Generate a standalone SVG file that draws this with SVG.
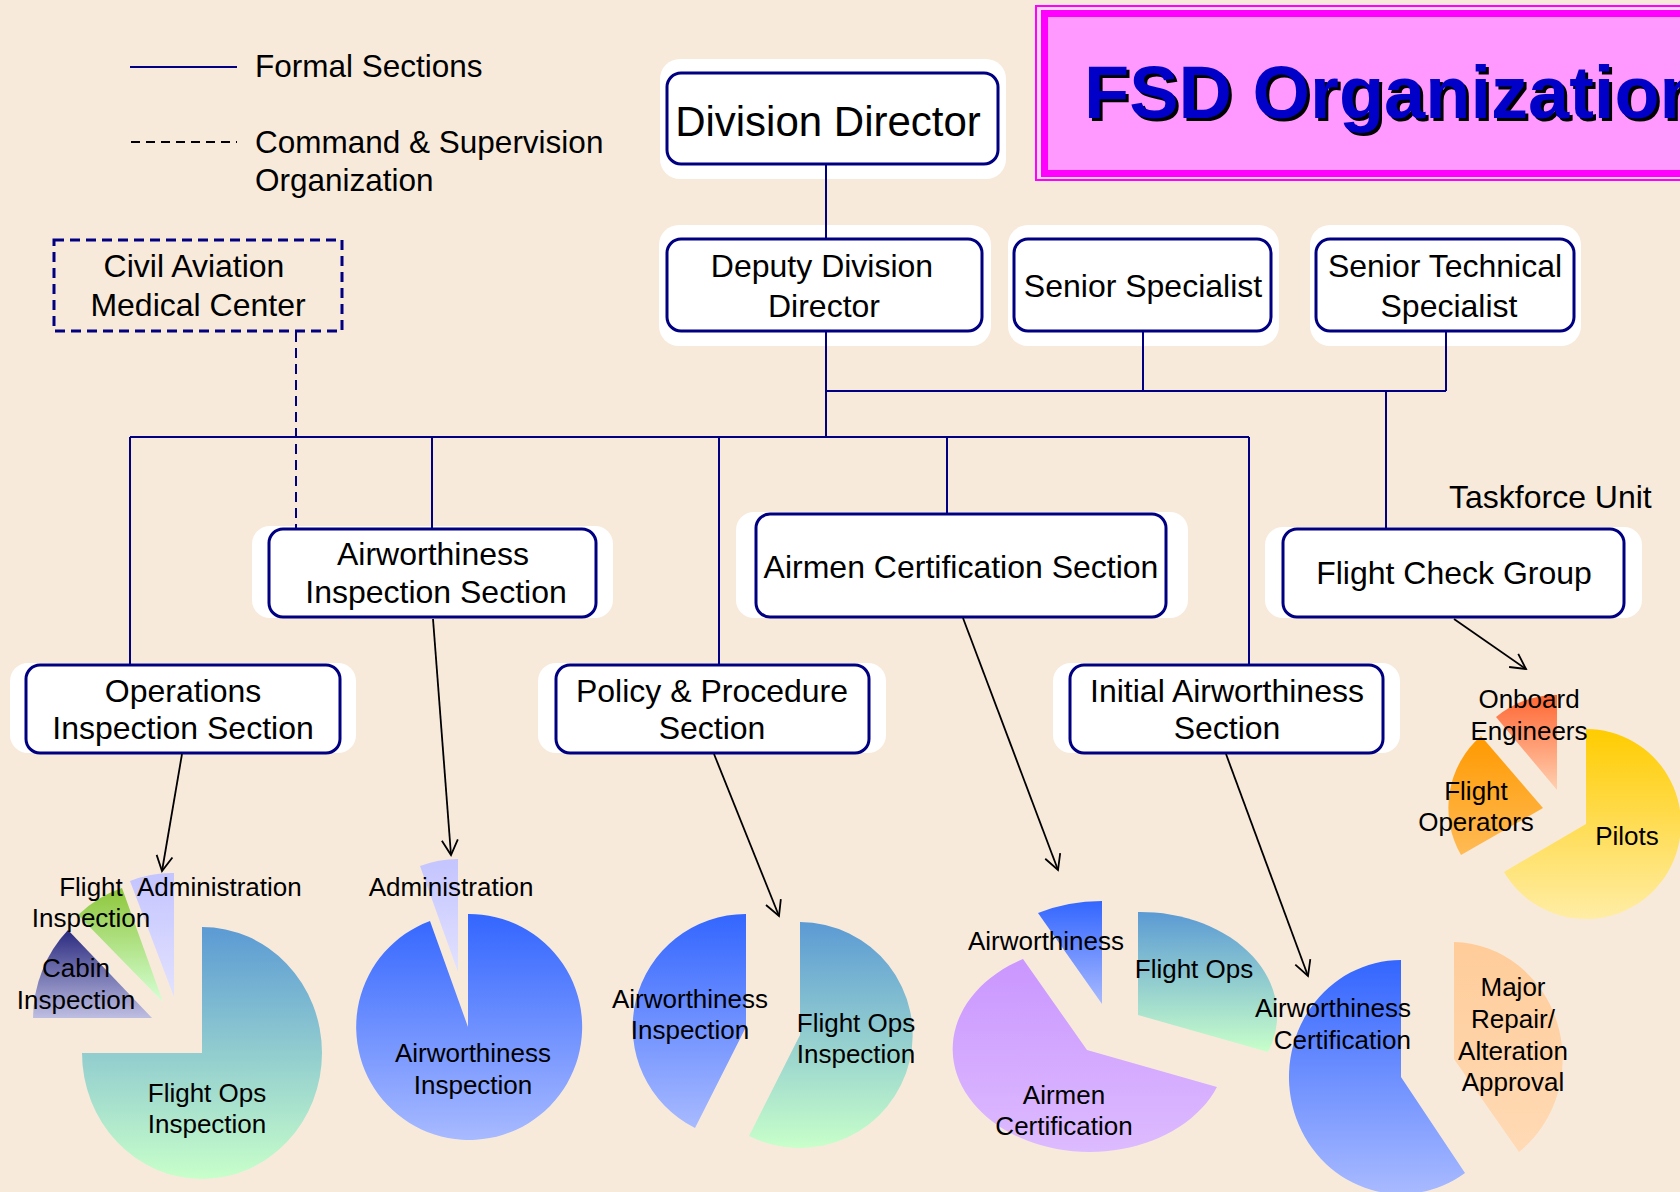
<svg xmlns="http://www.w3.org/2000/svg" width="1680" height="1192" viewBox="0 0 1680 1192">
<style>
.t{font-family:"Liberation Sans",Arial,sans-serif;fill:#000}
.n32{font-size:32px}
.lg{font-size:31.5px}
.lbl{font-size:26px}
.m{text-anchor:middle}
.e{text-anchor:end}
.halo{fill:#fff}
.box{fill:#fff;stroke:#000080;stroke-width:3}
.conn{stroke:#000080;stroke-width:2;fill:none}
.arr{stroke:#000;stroke-width:1.8;fill:none;marker-end:url(#ah)}
</style>
<defs>
<marker id="ah" markerUnits="userSpaceOnUse" markerWidth="22" markerHeight="22" refX="17" refY="10" orient="auto">
<path d="M2,2 L17,10 L2,18" fill="none" stroke="#000" stroke-width="1.8"/>
</marker>
<linearGradient id="gFO" x1="0" y1="0" x2="0" y2="1"><stop offset="0" stop-color="#5B9AD4"/><stop offset="1" stop-color="#C8FFCA"/></linearGradient>
<linearGradient id="gBlue" x1="0" y1="0" x2="0" y2="1"><stop offset="0" stop-color="#3366FF"/><stop offset="1" stop-color="#A8BAFF"/></linearGradient>
<linearGradient id="gAdm" x1="0" y1="0" x2="0" y2="1"><stop offset="0" stop-color="#C4C4FF"/><stop offset="1" stop-color="#E2E2FF"/></linearGradient>
<linearGradient id="gGrn" x1="0" y1="0" x2="0" y2="1"><stop offset="0" stop-color="#8EC63A"/><stop offset="1" stop-color="#D4FFD4"/></linearGradient>
<linearGradient id="gCab" x1="0" y1="0" x2="0" y2="1"><stop offset="0" stop-color="#2A2A80"/><stop offset="1" stop-color="#BEBEE2"/></linearGradient>
<linearGradient id="gAir" x1="0" y1="0" x2="0" y2="1"><stop offset="0" stop-color="#CA96FF"/><stop offset="1" stop-color="#DDBBFF"/></linearGradient>
<linearGradient id="gPch" x1="0" y1="0" x2="0" y2="1"><stop offset="0" stop-color="#FFCC99"/><stop offset="1" stop-color="#FFDAB5"/></linearGradient>
<linearGradient id="gPil" x1="0" y1="0" x2="0" y2="1"><stop offset="0" stop-color="#FFCC00"/><stop offset="1" stop-color="#FFEDA6"/></linearGradient>
<linearGradient id="gFOp" x1="0" y1="0" x2="0" y2="1"><stop offset="0" stop-color="#FF9900"/><stop offset="1" stop-color="#FFBB55"/></linearGradient>
<linearGradient id="gOE" x1="0" y1="0" x2="0" y2="1"><stop offset="0" stop-color="#FF6633"/><stop offset="1" stop-color="#FFD0B0"/></linearGradient>
</defs>
<rect x="0" y="0" width="1680" height="1192" fill="#F8EADB"/>

<!-- legend -->
<g id="legend">
<line x1="130" y1="67" x2="237" y2="67" stroke="#000080" stroke-width="2"/>
<text class="t lg" x="255" y="77">Formal Sections</text>
<line x1="131" y1="142" x2="237" y2="142" stroke="#000" stroke-width="2" stroke-dasharray="9 6"/>
<text class="t lg" x="255" y="153">Command &amp; Supervision</text>
<text class="t lg" x="255" y="191">Organization</text>
</g>

<!-- title -->
<g id="title">
<rect x="1036" y="6" width="700" height="174" fill="#FFD6FA" stroke="#FF00FF" stroke-width="2"/>
<rect x="1044.5" y="13.5" width="700" height="160" fill="#FF99FF" stroke="#FF00FF" stroke-width="7"/>
<text x="1087" y="121" font-family="Liberation Sans,Arial,sans-serif" font-weight="bold" font-size="74" fill="#000">FSD Organization</text>
<text x="1084" y="118" font-family="Liberation Sans,Arial,sans-serif" font-weight="bold" font-size="74" fill="#0000C8">FSD Organization</text>
</g>

<!-- nodes -->
<g id="division-director">
<rect class="halo" x="660" y="59" width="346" height="120" rx="20"/>
<rect class="box" x="667" y="73" width="331" height="91" rx="14"/>
<text class="t m" x="828" y="136" font-size="42">Division Director</text>
</g>
<g id="deputy-division-director">
<rect class="halo" x="659" y="225" width="332" height="121" rx="20"/>
<rect class="box" x="667" y="239" width="315" height="92" rx="14"/>
<text class="t n32 m" x="822" y="277">Deputy Division</text>
<text class="t n32 m" x="824" y="317">Director</text>
</g>
<g id="senior-specialist">
<rect class="halo" x="1008" y="225" width="271" height="121" rx="20"/>
<rect class="box" x="1014" y="239" width="257" height="92" rx="14"/>
<text class="t n32 m" x="1143" y="297">Senior Specialist</text>
</g>
<g id="senior-technical-specialist">
<rect class="halo" x="1310" y="225" width="271" height="121" rx="20"/>
<rect class="box" x="1316" y="239" width="258" height="92" rx="14"/>
<text class="t n32 m" x="1445" y="277">Senior Technical</text>
<text class="t n32 m" x="1449" y="317">Specialist</text>
</g>
<g id="medical-center">
<rect x="54" y="240" width="288" height="91" fill="none" stroke="#000080" stroke-width="3" stroke-dasharray="10 6"/>
<text class="t n32 m" x="194" y="277">Civil Aviation</text>
<text class="t n32 m" x="198" y="316">Medical Center</text>
</g>
<g id="airworthiness-inspection-section">
<rect class="halo" x="252" y="526" width="361" height="92" rx="18"/>
<rect class="box" x="269" y="529" width="327" height="88" rx="14"/>
<text class="t n32 m" x="433" y="565">Airworthiness</text>
<text class="t n32 m" x="436" y="603">Inspection Section</text>
</g>
<g id="airmen-certification-section">
<rect class="halo" x="736" y="512" width="452" height="106" rx="18"/>
<rect class="box" x="756" y="514" width="410" height="103" rx="14"/>
<text class="t n32 m" x="961" y="578">Airmen Certification Section</text>
</g>
<g id="flight-check-group">
<rect class="halo" x="1265" y="527" width="377" height="91" rx="18"/>
<rect class="box" x="1283" y="529" width="341" height="88" rx="14"/>
<text class="t n32 m" x="1454" y="584">Flight Check Group</text>
</g>
<text class="t n32" x="1449" y="508">Taskforce Unit</text>
<g id="operations-inspection-section">
<rect class="halo" x="10" y="663" width="346" height="90" rx="18"/>
<rect class="box" x="26" y="665" width="314" height="88" rx="14"/>
<text class="t n32 m" x="183" y="702">Operations</text>
<text class="t n32 m" x="183" y="739">Inspection Section</text>
</g>
<g id="policy-procedure-section">
<rect class="halo" x="538" y="663" width="348" height="90" rx="18"/>
<rect class="box" x="556" y="665" width="313" height="88" rx="14"/>
<text class="t n32 m" x="712" y="702">Policy &amp; Procedure</text>
<text class="t n32 m" x="712" y="739">Section</text>
</g>
<g id="initial-airworthiness-section">
<rect class="halo" x="1053" y="663" width="347" height="90" rx="18"/>
<rect class="box" x="1070" y="665" width="313" height="88" rx="14"/>
<text class="t n32 m" x="1227" y="702">Initial Airworthiness</text>
<text class="t n32 m" x="1227" y="739">Section</text>
</g>

<!-- connectors -->
<g id="connectors">
<path class="conn" d="M826,165 V238 M826,332 V437 M826,391 H1446 M1143,332 V391 M1446,332 V391 M1386,391 V528 M130,437 H1249 M130,437 V664 M432,437 V528 M719,437 V664 M947,437 V513 M1249,437 V664"/>
<path d="M296,332 V528" stroke="#000080" stroke-width="2" fill="none" stroke-dasharray="10 6"/>
<path class="arr" d="M182,754 L162,871"/>
<path class="arr" d="M433,619 L451,855"/>
<path class="arr" d="M714,754 L779,916"/>
<path class="arr" d="M963,618 L1058,870"/>
<path class="arr" d="M1226,754 L1308,976"/>
<path class="arr" d="M1454,619 L1526,669"/>
</g>

<!-- pie 1: operations -->
<g id="pie-operations">
<path d="M202,1053 L202,927 A120,126 0 1 1 82,1053 Z" fill="url(#gFO)"/>
<path d="M174,997 L174,873 A120,126 0 0 0 130,881 Z" fill="url(#gAdm)"/>
<path d="M163,1002 L122,888 A120,126 0 0 0 78,915 Z" fill="url(#gGrn)"/>
<path d="M152,1018 L68,930 A120,126 0 0 0 33,1018 Z" fill="url(#gCab)"/>
<text class="t lbl m" x="91" y="896">Flight</text>
<text class="t lbl" x="137" y="896">Administration</text>
<text class="t lbl m" x="91" y="927">Inspection</text>
<text class="t lbl m" x="76" y="977">Cabin</text>
<text class="t lbl m" x="76" y="1009">Inspection</text>
<text class="t lbl m" x="207" y="1102">Flight Ops</text>
<text class="t lbl m" x="207" y="1133">Inspection</text>
</g>

<!-- pie 2: airworthiness inspection -->
<g id="pie-airworthiness">
<path d="M468,1027 L468,914 A113,113 0 1 1 430,921 Z" fill="url(#gBlue)"/>
<path d="M458,972 L458,859 A113,113 0 0 0 420,866 Z" fill="url(#gAdm)"/>
<text class="t lbl m" x="451" y="896">Administration</text>
<text class="t lbl m" x="473" y="1062">Airworthiness</text>
<text class="t lbl m" x="473" y="1094">Inspection</text>
</g>

<!-- pie 3: policy -->
<g id="pie-policy">
<path d="M746,1027 L746,914 A113,113 0 0 0 695,1128 Z" fill="url(#gBlue)"/>
<path d="M800,1035 L800,922 A113,113 0 1 1 749,1136 Z" fill="url(#gFO)"/>
<text class="t lbl m" x="690" y="1008">Airworthiness</text>
<text class="t lbl m" x="690" y="1039">Inspection</text>
<text class="t lbl m" x="856" y="1032">Flight Ops</text>
<text class="t lbl m" x="856" y="1063">Inspection</text>
</g>

<!-- pie 4: airmen -->
<g id="pie-airmen">
<path d="M1102,1004 L1102,901 A137,103 0 0 0 1038,913 Z" fill="url(#gBlue)"/>
<path d="M1138,1015 L1138,912 A137,103 0 0 1 1268,1052 Z" fill="url(#gFO)"/>
<path d="M1087,1050 L1023,959 A137,103 0 1 0 1217,1087 Z" fill="url(#gAir)"/>
<text class="t lbl m" x="1046" y="950">Airworthiness</text>
<text class="t lbl m" x="1194" y="978">Flight Ops</text>
<text class="t lbl m" x="1064" y="1104">Airmen</text>
<text class="t lbl m" x="1064" y="1135">Certification</text>
</g>

<!-- pie 5: initial airworthiness -->
<g id="pie-initial">
<path d="M1401,1077 L1401,960 A112,117 0 1 0 1465,1173 Z" fill="url(#gBlue)"/>
<path d="M1454,1059 L1454,942 A111,117 0 0 1 1519,1152 Z" fill="url(#gPch)"/>
<text class="t lbl e" x="1411" y="1017">Airworthiness</text>
<text class="t lbl e" x="1411" y="1049">Certification</text>
<text class="t lbl m" x="1513" y="996">Major</text>
<text class="t lbl m" x="1513" y="1028">Repair/</text>
<text class="t lbl m" x="1513" y="1060">Alteration</text>
<text class="t lbl m" x="1513" y="1091">Approval</text>
</g>

<!-- pie 6: flight check -->
<g id="pie-flightcheck">
<path d="M1586,824 L1586,729 A95,95 0 1 1 1504,872 Z" fill="url(#gPil)"/>
<path d="M1543,808 L1461,855 A95,95 0 0 1 1481,736 Z" fill="url(#gFOp)"/>
<path d="M1557,790 L1557,695 A95,95 0 0 0 1496,717 Z" fill="url(#gOE)"/>
<text class="t lbl m" x="1529" y="708">Onboard</text>
<text class="t lbl m" x="1529" y="740">Engineers</text>
<text class="t lbl m" x="1476" y="800">Flight</text>
<text class="t lbl m" x="1476" y="831">Operators</text>
<text class="t lbl m" x="1627" y="845">Pilots</text>
</g>
</svg>
